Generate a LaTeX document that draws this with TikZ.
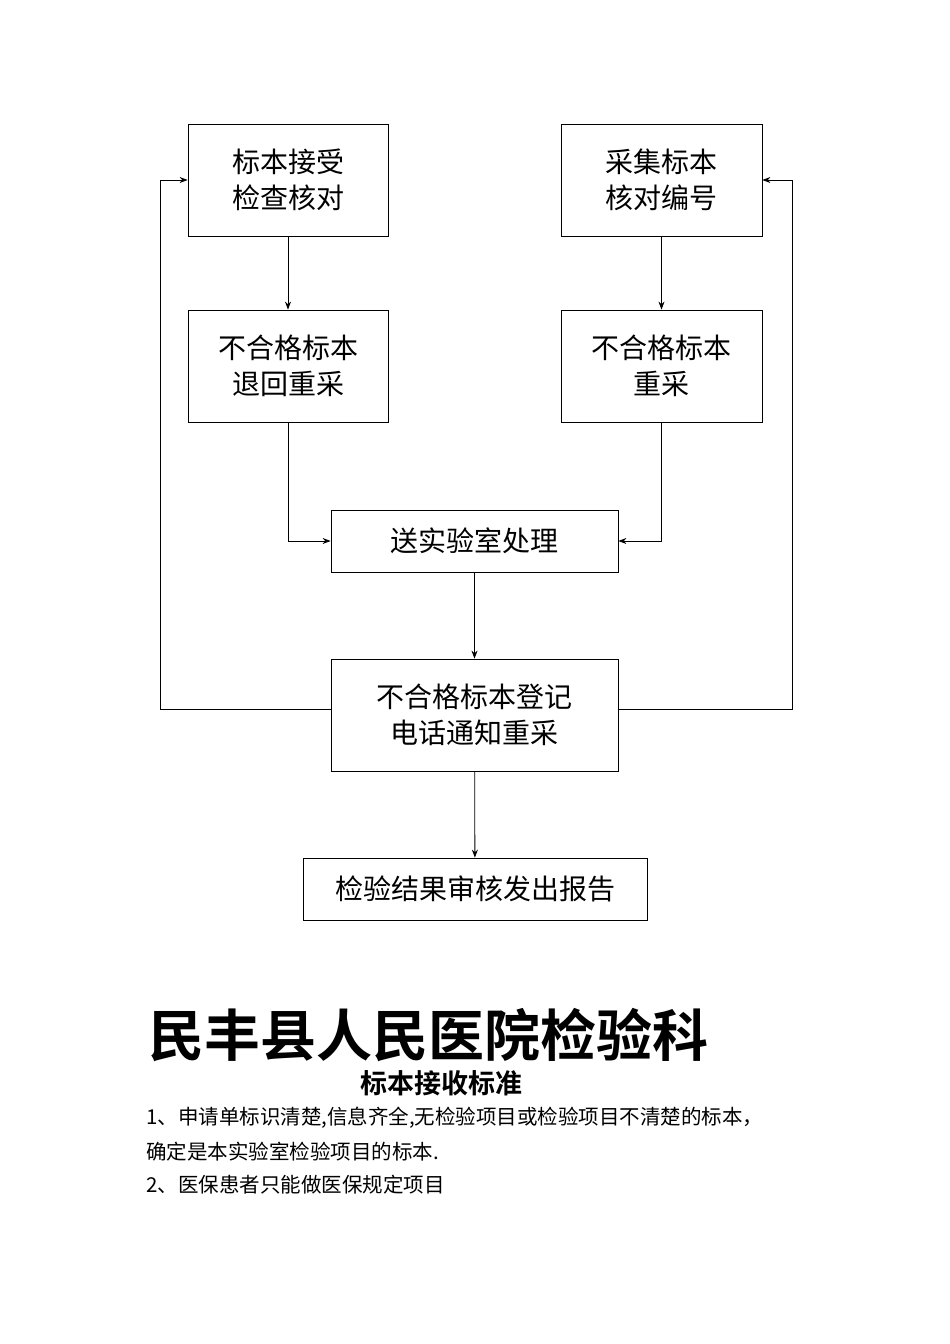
\documentclass[tikz,border=0pt]{standalone}
\usepackage{fontspec}
\setmainfont{Noto Sans CJK SC}
\newfontfamily\boldcjk{Noto Sans CJK SC Bold}
\usetikzlibrary{arrows.meta}
\begin{document}
\begin{tikzpicture}[x=1pt,y=-1pt,
  box/.style={draw,line width=0.8pt,inner sep=0pt,font=\fontsize{28}{36}\selectfont,align=center},
  conn/.style={line width=0.8pt,-{Stealth[length=8pt,width=6pt]}}]
\useasboundingbox (0,0) rectangle (950,1344);
\node[box,minimum width=200,minimum height=112] (A) at (288,180) {标本接受\\检查核对};
\node[box,minimum width=201,minimum height=112] (B) at (661.5,180) {采集标本\\核对编号};
\node[box,minimum width=200,minimum height=112] (C) at (288,366) {不合格标本\\退回重采};
\node[box,minimum width=201,minimum height=112] (D) at (661.5,366) {不合格标本\\重采};
\node[box,minimum width=287,minimum height=62] (E) at (474.5,541) {送实验室处理};
\node[box,minimum width=287,minimum height=112] (F) at (474.5,715) {不合格标本登记\\电话通知重采};
\node[box,minimum width=344,minimum height=62] (G) at (475,889) {检验结果审核发出报告};
\draw[conn] (A) -- (C);
\draw[conn] (B) -- (D);
\draw[conn] (C.south) |- (E.west);
\draw[conn] (D.south) |- (E.east);
\draw[conn] (E) -- (F);
\draw[conn] (F) -- (G);
\coordinate (L) at (160,709);
\coordinate (R) at (792,709);
\draw[conn] (F.west |- L) -- (L) |- (A.west);
\draw[conn] (F.east |- R) -- (R) |- (B.east);
\node[font=\boldcjk\fontsize{56}{60}\selectfont,anchor=west] (T) at (145,1035) {民丰县人民医院检验科};
\node[font=\boldcjk\fontsize{27}{30}\selectfont] (S) at (441,1083) {标本接收标准};
\node[font=\fontsize{20.5}{24}\selectfont,anchor=west,inner sep=0pt] (l1) at (146,1118) {1、申请单标识清楚,信息齐全,无检验项目或检验项目不清楚的标本，};
\node[font=\fontsize{20.5}{24}\selectfont,anchor=west,inner sep=0pt] (l2) at (146,1152) {确定是本实验室检验项目的标本.};
\node[font=\fontsize{20.5}{24}\selectfont,anchor=west,inner sep=0pt] (l3) at (146,1185) {2、医保患者只能做医保规定项目};
\end{tikzpicture}
\end{document}
